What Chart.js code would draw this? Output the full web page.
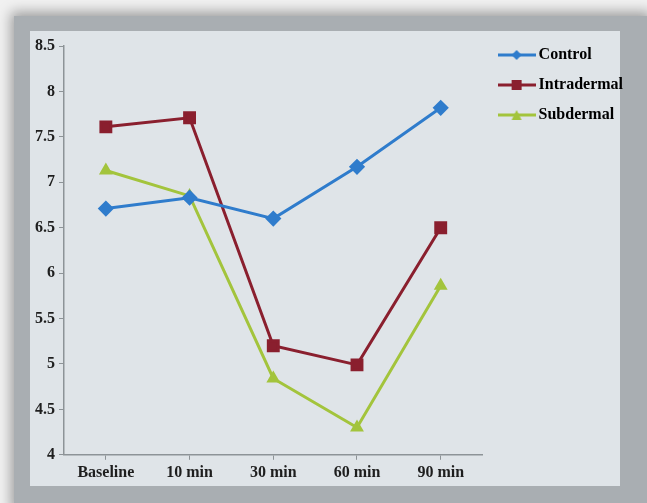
<!DOCTYPE html>
<html lang="en">
<head>
    <meta charset="UTF-8">
    <title>Chart</title>
    <script src="https://cdn.jsdelivr.net/npm/chart.js"></script>
    <style>
        html, body { margin: 0; padding: 0; }
        body { width: 647px; height: 503px; background: #f1f1f1; position: relative; overflow: hidden; }
        .frame { position: absolute; left: 14px; top: 16px; width: 640px; height: 500px; background: #a9aeb2;
                 box-shadow: -3px -4px 12px rgba(0,0,0,0.35); }
        .paper { position: absolute; left: 30px; top: 31px; width: 590px; height: 455px; background: #dfe4e8; }
        #chartBox { position: absolute; left: 0; top: 0; width: 647px; height: 503px; }
    </style>
</head>
<body>
    <div class="frame"></div>
    <div class="paper"></div>
    <div id="chartBox"><canvas id="myChart"></canvas></div>

    <script>
        // data
        const labels = ['Baseline', '10 min', '30 min', '60 min', '90 min'];
        const control = [6.71, 6.83, 6.60, 7.17, 7.82];
        const intradermal = [7.61, 7.71, 5.20, 4.99, 6.50];
        const subdermal = [7.13, 6.85, 4.84, 4.30, 5.86];

        const blue = '#2f7ccc';
        const red = '#8a1f2e';
        const green = '#a3c43c';

        // small line + marker icon for the legend
        function legendIcon(color, style) {
            const c = document.createElement('canvas');
            c.width = 38; c.height = 14;
            const ctx = c.getContext('2d');
            ctx.strokeStyle = color;
            ctx.fillStyle = color;
            ctx.lineWidth = 3;
            ctx.beginPath();
            ctx.moveTo(0, 7); ctx.lineTo(38, 7);
            ctx.stroke();
            ctx.beginPath();
            if (style === 'diamond') {
                ctx.moveTo(19, 2); ctx.lineTo(24, 7); ctx.lineTo(19, 12); ctx.lineTo(14, 7);
            } else if (style === 'square') {
                ctx.rect(14, 2, 10, 10);
            } else {
                ctx.moveTo(19, 2); ctx.lineTo(24, 12); ctx.lineTo(14, 12);
            }
            ctx.closePath();
            ctx.fill();
            return c;
        }

        // the legend sits a bit higher and further right than Chart.js puts it
        const legendNudge = {
            id: 'legendNudge',
            afterLayout(chart) {
                chart.legend.top -= 13;
                chart.legend.left += 6;
            }
        };

        const ctx = document.getElementById('myChart').getContext('2d');
        const myChart = new Chart(ctx, {
            type: 'line',
            data: {
                labels: labels,
                datasets: [{
                    label: 'Control',
                    data: control,
                    borderColor: blue,
                    backgroundColor: blue,
                    borderWidth: 3,
                    pointStyle: 'rectRot',
                    pointRadius: 6,
                    legendIcon: legendIcon(blue, 'diamond')
                }, {
                    label: 'Intradermal',
                    data: intradermal,
                    borderColor: red,
                    backgroundColor: red,
                    borderWidth: 3,
                    pointStyle: 'rect',
                    pointRadius: 7,
                    legendIcon: legendIcon(red, 'square')
                }, {
                    label: 'Subdermal',
                    data: subdermal,
                    borderColor: green,
                    backgroundColor: green,
                    borderWidth: 3,
                    pointStyle: 'triangle',
                    pointRadius: 5,
                    legendIcon: legendIcon(green, 'triangle')
                }]
            },
            plugins: [legendNudge],
            options: {
                responsive: true,
                maintainAspectRatio: false,
                animation: false,
                layout: { padding: { left: 31, top: 46, right: 20, bottom: 18 } },
                plugins: {
                    tooltip: { enabled: false },
                    legend: {
                        position: 'right',
                        align: 'start',
                        labels: {
                            usePointStyle: true,
                            pointStyleWidth: 28,
                            boxHeight: 14,
                            padding: 14,
                            color: '#222',
                            font: { family: 'Liberation Serif', size: 16, weight: 'bold' },
                            generateLabels: (chart) => chart.data.datasets.map((ds, i) => ({
                                text: ds.label,
                                pointStyle: ds.legendIcon,
                                fillStyle: ds.backgroundColor,
                                strokeStyle: ds.borderColor,
                                lineWidth: 0,
                                hidden: false,
                                datasetIndex: i
                            }))
                        }
                    }
                },
                scales: {
                    x: {
                        offset: true,
                        grid: { display: true, drawOnChartArea: false, tickLength: 5, color: '#8d9397' },
                        border: { color: '#8d9397', width: 1.5 },
                        ticks: { color: '#1e1e1e', padding: 3, font: { family: 'Liberation Serif', size: 16, weight: 'bold' } }
                    },
                    y: {
                        min: 4,
                        max: 8.5,
                        grid: { display: true, drawOnChartArea: false, tickLength: 5, color: '#8d9397' },
                        border: { color: '#8d9397', width: 1.5 },
                        ticks: {
                            stepSize: 0.5,
                            color: '#1e1e1e',
                            padding: 4,
                            font: { family: 'Liberation Serif', size: 16, weight: 'bold' },
                            callback: (v) => String(v)
                        }
                    }
                }
            }
        });
    </script>
</body>
</html>
